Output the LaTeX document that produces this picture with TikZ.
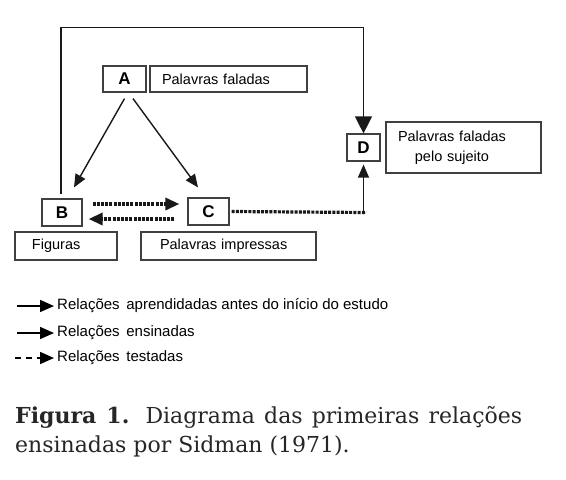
\documentclass[tikz,border=0pt]{standalone}
\usepackage{fontspec}
\setmainfont{DejaVu Serif}
\setsansfont{Liberation Sans}
\usetikzlibrary{arrows.meta}
\begin{document}
\begin{tikzpicture}[x=1pt,y=-1pt,
  lbl/.style={draw=black!75,line width=1.2pt,inner sep=0pt,font=\sffamily\bfseries\fontsize{17}{18}\selectfont},
  txtbox/.style={draw=black!75,line width=1.2pt,inner ysep=0pt,inner xsep=12pt,align=left,font=\sffamily\fontsize{14.5}{19}\selectfont},
  arr/.style={draw=black!90,line width=1.4pt,-{Triangle[length=13pt,width=11pt]}},
  bigarr/.style={draw=black!90,line width=1.4pt,-{Triangle[length=17pt,width=17pt]}},
  dotln/.style={draw=black!90,line width=3.2pt,dash pattern=on 3pt off 1.2pt},
  dotarr/.style={dotln,-{Triangle[length=14pt,width=12pt]}},
  legtxt/.style={anchor=west,inner sep=0pt,font=\sffamily\fontsize{15}{17}\selectfont},
  legarr/.style={draw=black,line width=1.5pt,-{Triangle[length=14pt,width=12pt]}}
]
\useasboundingbox (0,0) rectangle (566,480);
\fill[white] (0,0) rectangle (566,480);
% nodes
\node[lbl,minimum width=43pt,minimum height=26pt] (A) at (124.5,79) {A};
\node[txtbox,text width=133pt,minimum height=26pt] (PF) at (228.5,79) {Palavras faladas};
\node[lbl,minimum width=40pt,minimum height=27pt] (B) at (62,212.5) {B};
\node[lbl,minimum width=41pt,minimum height=27pt] (C) at (208.5,211.5) {C};
\node[txtbox,text width=78pt,minimum height=28pt,inner xsep=12pt] (FIG) at (66,246) {\hspace*{5pt}Figuras};
\node[txtbox,text width=151pt,minimum height=28pt] (PI) at (228.5,246) {\hspace*{7pt}Palavras impressas};
\node[lbl,minimum width=33pt,minimum height=27pt] (D) at (363.5,147.5) {D};
\node[txtbox,text width=131pt,minimum height=51pt] (DT) at (463.5,147.5) {\begin{tabular}{@{}c@{}}Palavras faladas\\[1pt] pelo sujeito\end{tabular}};
% connectors
\draw[bigarr] ([yshift=4pt,xshift=-1pt]B.north) -- ++(0,-167) -| (D.north);
\draw[arr] ([yshift=-6pt]A.south) -- ([xshift=12pt,yshift=11pt]B.north);
\draw[arr] ([xshift=8.5pt,yshift=-6pt]A.south) -- ([xshift=-10.5pt,yshift=10pt]C.north);
\draw[dotarr] ([xshift=10pt,yshift=8.5pt]B.east) -- ([xshift=-8pt,yshift=7.5pt]C.west);
\draw[dotarr] ([xshift=-13pt,yshift=-7.5pt]C.west) -- ([xshift=6pt,yshift=-6.5pt]B.east);
\coordinate (cd) at (366,212.5);
\draw[dotln] ([xshift=2pt]C.east) -- (cd);
\draw[arr] ([xshift=-2.5pt,yshift=-1pt]cd) -- ([yshift=-3pt]D.south);
% legend
\node[legtxt] (L1) at (57,306) {Relações\, aprendidadas antes do início do estudo};
\node[legtxt] (L2) at (57,333) {Relações\, ensinadas};
\node[legtxt] (L3) at (57,358) {Relações\, testadas};
\coordinate (L1s) at (17,306);
\coordinate (L2s) at (17,333);
\coordinate (L3s) at (15,358);
\draw[legarr] (L1s) -- ([xshift=-3pt]L1.west);
\draw[legarr] (L2s) -- ([xshift=-3pt]L2.west);
\draw[legarr,dash pattern=on 6pt off 5pt] (L3s) -- ([xshift=-3pt]L3.west);
% caption
\node[anchor=base west,inner sep=0pt,font=\fontsize{22}{29}\selectfont,text=black!85] (CAP1) at (15,423) {\makebox[507pt][s]{\textbf{Figura 1.} Diagrama das primeiras relações}};
\node[anchor=base west,inner sep=0pt,font=\fontsize{22}{29}\selectfont,text=black!85] (CAP2) at (15,452) {ensinadas por Sidman (1971).};
\end{tikzpicture}
\end{document}
